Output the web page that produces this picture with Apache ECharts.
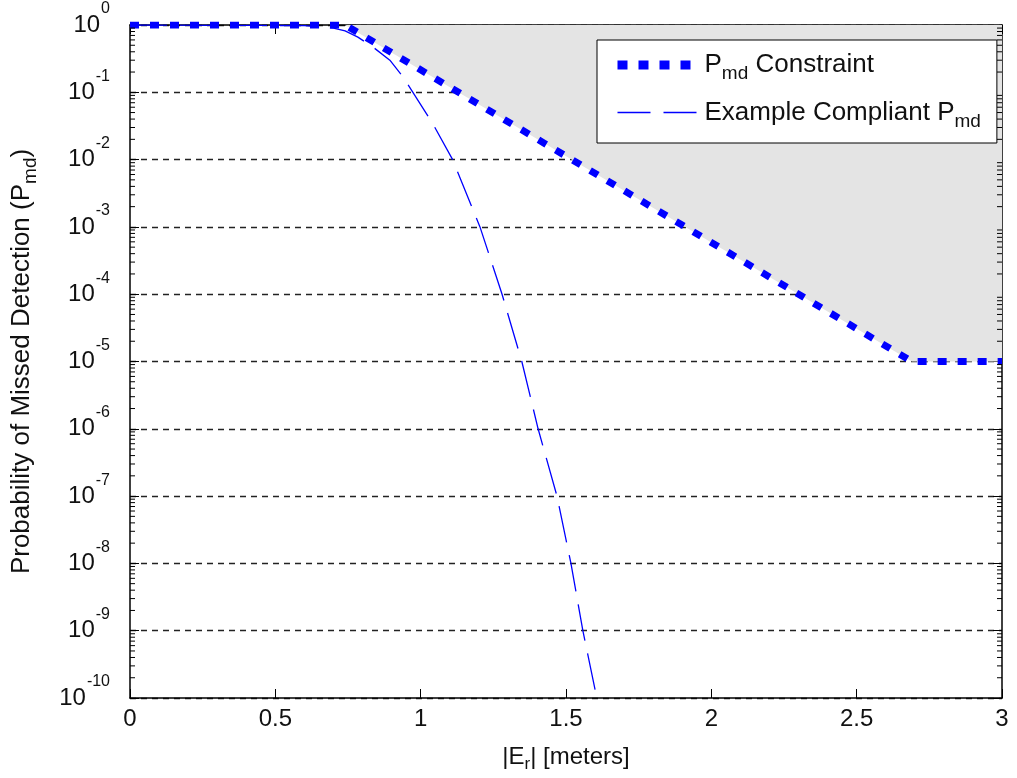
<!DOCTYPE html>
<html>
<head>
<meta charset="utf-8">
<script src="https://cdn.jsdelivr.net/npm/echarts@6/dist/echarts.min.js"></script>
<style>
  html, body { margin: 0; padding: 0; background: #fff; }
  #main { width: 1017px; height: 778px; }
</style>
</head>
<body>
<div id="main"></div>
<script>
// Pmd constraint (|Er| in meters, probability)
var constraintX = [0, 0.74, 2.69, 3]
var constraintY = [1, 1, 1e-5, 1e-5]
// example compliant Pmd curve
var exampleX = [0, 0.6, 0.7, 0.74, 0.784, 0.836, 0.894, 0.939, 0.97, 1.042, 1.11, 1.204, 1.28, 1.348, 1.404, 1.469, 1.517, 1.558, 1.606]
var exampleY = [1, 0.98, 0.9, 0.82, 0.66, 0.47, 0.3, 0.17, 0.105, 0.034, 1e-2, 1e-3, 1e-4, 1e-5, 1e-6, 1e-7, 1e-8, 1e-9, 1e-10]
// decades for minor ticks on log axis
var decades = [-10, -9, -8, -7, -6, -5, -4, -3, -2, -1]
var minorMults = [2, 3, 4, 5, 6, 7, 8, 9]

var FONT = '"Liberation Sans", Arial, sans-serif'

function zip(xs, ys) {
  return xs.map(function (x, i) { return [x, ys[i]] })
}

var minorData = []
decades.forEach(function (d) {
  minorMults.forEach(function (m) {
    minorData.push([0, m * Math.pow(10, d)])
  })
})

var chart = echarts.init(document.getElementById('main'))

var option = {
  animation: false,
  backgroundColor: '#fff',
  grid: { left: 130, right: 15, top: 25, bottom: 78 },
  legend: {
    orient: 'vertical',
    left: 597,
    top: 40,
    padding: [12, 16, 12, 16],
    itemGap: 16,
    itemWidth: 82,
    itemHeight: 14,
    backgroundColor: '#fff',
    borderColor: '#000',
    borderWidth: 1,
    itemStyle: { opacity: 0 },
    data: [
      { name: 'constraint', lineStyle: { color: '#0000ff', width: 9, type: [10, 11], cap: 'butt' } },
      { name: 'example', lineStyle: { color: '#0000ff', width: 1.3, type: [33, 13] } }
    ],
    formatter: function (name) {
      if (name === 'constraint') return '{n|P}{s|md}{n| Constraint}'
      return '{n|Example Compliant P}{s|md}'
    },
    textStyle: {
      fontFamily: FONT,
      color: '#111',
      rich: {
        n: { fontSize: 26, fontFamily: FONT, color: '#111' },
        s: { fontSize: 19, fontFamily: FONT, color: '#111', padding: [18, 0, 0, 0] }
      }
    }
  },
  xAxis: [
    {
      type: 'value',
      min: 0,
      max: 3,
      interval: 0.5,
      name: '|E{s|r}| [meters]',
      nameLocation: 'middle',
      nameGap: 44,
      nameTextStyle: {
        fontSize: 24,
        fontFamily: FONT,
        color: '#111',
        rich: {
          s: { fontSize: 17, fontFamily: FONT, color: '#111', padding: [14, 0, 0, 0] }
        }
      },
      axisLine: { show: true, onZero: false, lineStyle: { color: '#000', width: 1.5 } },
      axisTick: { show: true, inside: true, length: 9, lineStyle: { color: '#000' } },
      axisLabel: { fontSize: 24, fontFamily: FONT, color: '#111', margin: 9 },
      splitLine: { show: false }
    },
    {
      type: 'value',
      position: 'top',
      min: 0,
      max: 3,
      interval: 0.5,
      axisLine: { show: true, onZero: false, lineStyle: { color: '#000', width: 1.5 } },
      axisTick: { show: true, inside: true, length: 9, lineStyle: { color: '#000' } },
      axisLabel: { show: false },
      splitLine: { show: false }
    }
  ],
  yAxis: [
    {
      type: 'log',
      logBase: 10,
      min: 1e-10,
      max: 1,
      interval: 1,
      name: 'Probability of Missed Detection (P{s|md})',
      nameLocation: 'middle',
      nameGap: 90,
      nameTextStyle: {
        fontSize: 26,
        fontFamily: FONT,
        color: '#111',
        rich: {
          s: { fontSize: 19, fontFamily: FONT, color: '#111', padding: [18, 0, 0, 0] }
        }
      },
      axisLine: { show: true, onZero: false, lineStyle: { color: '#000', width: 1.5 } },
      axisTick: { show: true, inside: true, length: 9, lineStyle: { color: '#000' } },
      axisLabel: {
        margin: 20,
        formatter: function (v) {
          var e = Math.round(Math.log10(v))
          return '{b|10}{e|' + e + '}'
        },
        rich: {
          b: { fontSize: 24, fontFamily: FONT, color: '#111' },
          e: { fontSize: 16, fontFamily: FONT, color: '#111', padding: [0, 0, 32, 1] }
        }
      },
      splitLine: {
        show: true,
        lineStyle: { color: '#222', width: 1.4, type: [6, 5] }
      }
    },
    {
      type: 'log',
      logBase: 10,
      position: 'right',
      min: 1e-10,
      max: 1,
      interval: 1,
      axisLine: { show: true, onZero: false, lineStyle: { color: '#000', width: 1.5 } },
      axisTick: { show: true, inside: true, length: 9, lineStyle: { color: '#000' } },
      axisLabel: { show: false },
      splitLine: { show: false }
    }
  ],
  series: [
    {
      name: 'constraint',
      type: 'line',
      data: zip(constraintX, constraintY),
      showSymbol: false,
      symbol: 'none',
      lineStyle: { color: '#0000ff', width: 7, type: [9, 11], cap: 'butt' },
      itemStyle: { color: '#0000ff' },
      areaStyle: { origin: 'end', color: '#e4e4e4', opacity: 1 },
      z: 3
    },
    {
      name: 'example',
      type: 'line',
      data: zip(exampleX, exampleY),
      showSymbol: false,
      symbol: 'none',
      lineStyle: { color: '#0000ff', width: 1.3, type: [37, 13] },
      itemStyle: { color: '#0000ff' },
      z: 2
    },
    {
      // minor ticks of the log axes (left and right side)
      type: 'custom',
      silent: true,
      z: 5,
      data: minorData,
      renderItem: function (params, api) {
        var v = api.value(1)
        var pl = api.coord([0, v])
        var pr = api.coord([3, v])
        return {
          type: 'group',
          children: [
            { type: 'line', shape: { x1: pl[0], y1: pl[1], x2: pl[0] + 5, y2: pl[1] }, style: { stroke: '#000', lineWidth: 1 } },
            { type: 'line', shape: { x1: pr[0], y1: pr[1], x2: pr[0] - 5, y2: pr[1] }, style: { stroke: '#000', lineWidth: 1 } }
          ]
        }
      }
    }
  ]
}

chart.setOption(option)
</script>
</body>
</html>
